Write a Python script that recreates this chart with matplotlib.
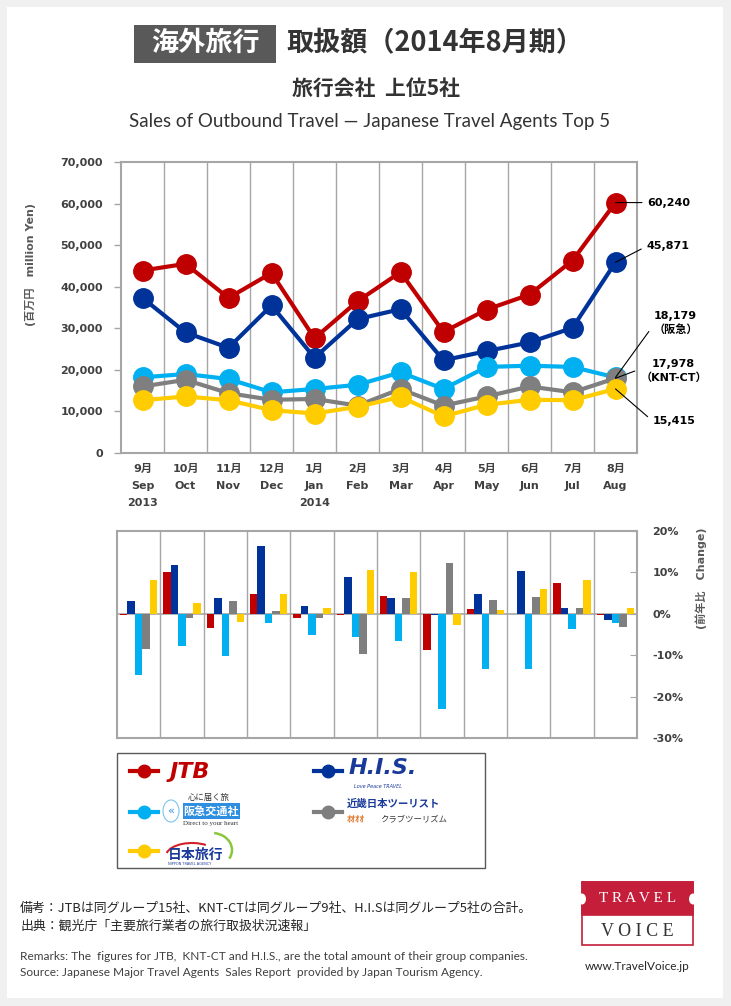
import numpy as np
import matplotlib
matplotlib.use('Agg')
import matplotlib.pyplot as plt
from matplotlib.lines import Line2D
from matplotlib.patches import Rectangle, Circle, Arc
from matplotlib.ticker import FuncFormatter

plt.rcParams['font.family'] = ['DejaVu Sans', 'Noto Sans CJK JP']

# データ（百万円）
months_jp = ['9月', '10月', '11月', '12月', '1月', '2月', '3月', '4月', '5月', '6月', '7月', '8月']
months_en = ['Sep', 'Oct', 'Nov', 'Dec', 'Jan', 'Feb', 'Mar', 'Apr', 'May', 'Jun', 'Jul', 'Aug']
years = ['2013', '', '', '', '2014', '', '', '', '', '', '', '']

jtb = [43900, 45500, 37300, 43300, 27600, 36500, 43500, 29100, 34500, 38100, 46300, 60240]
his = [37300, 29000, 25300, 35500, 22900, 32200, 34600, 22300, 24500, 26600, 30100, 45871]
hankyu = [18200, 19000, 17800, 14600, 15400, 16400, 19400, 15400, 20700, 21000, 20700, 18179]
knt = [16000, 17600, 14400, 12800, 13000, 11400, 15400, 11400, 13600, 16000, 14600, 17978]
nta = [12700, 13600, 12700, 10300, 9500, 11100, 13500, 8800, 11600, 12800, 12700, 15415]

# 前年比（%）
jtb_chg = [-0.3, 10.2, -3.5, 4.9, -1.1, -0.3, 4.4, -8.7, 1.1, 0.0, 7.4, -0.3]
his_chg = [3.0, 11.7, 3.7, 16.4, 1.8, 8.8, 3.7, -0.4, 4.7, 10.3, 1.3, -1.5]
hankyu_chg = [-14.7, -7.7, -10.3, -2.3, -5.2, -5.7, -6.5, -23.0, -13.3, -13.3, -3.6, -2.3]
knt_chg = [-8.4, -0.9, 3.2, 0.6, -1.1, -9.8, 3.7, 12.3, 3.3, 4.0, 1.5, -3.1]
nta_chg = [8.1, 2.7, -1.9, 4.9, 1.3, 10.7, 10.0, -2.8, 0.8, 5.9, 8.1, 1.5]

colors = ['#c00000', '#003399', '#00b0f0', '#7f7f7f', '#ffcc00']
series = [jtb, his, hankyu, knt, nta]
changes = [jtb_chg, his_chg, hankyu_chg, knt_chg, nta_chg]
end_tags = ['', '', '（阪急）', '（KNT-CT）', '']

W, H = 731, 1006
def fx(x):
    return x / W
def fy(y):
    return 1 - y / H

grid_c = '#a6a6a6'
txt_c = '#404040'

fig = plt.figure(figsize=(W / 100, H / 100), dpi=100, facecolor='#f0f0f0')
fig.add_artist(Rectangle((fx(7), fy(998)), 716 / W, 991 / H, transform=fig.transFigure,
                         facecolor='white', edgecolor='none', zorder=0))

# タイトル
fig.add_artist(Rectangle((fx(134), fy(63)), 142 / W, 38 / H, transform=fig.transFigure,
                         facecolor='#595959', edgecolor='none'))
fig.text(fx(205), fy(43), '海外旅行', color='white', fontsize=19.5, fontweight='bold',
         ha='center', va='center', family='Noto Sans CJK JP')
fig.text(fx(286), fy(43), '取扱額（2014年8月期）', color='#333333', fontsize=19.5, fontweight='bold',
         ha='left', va='center', family='Noto Sans CJK JP')
fig.text(fx(376), fy(88), '旅行会社  上位5社', color='#333333', fontsize=15, fontweight='bold',
         ha='center', va='center', family='Noto Sans CJK JP')
fig.text(fx(370), fy(122), 'Sales of Outbound Travel — Japanese Travel Agents Top 5', color='#333333',
         fontsize=13.5, ha='center', va='center', family=['Lato', 'DejaVu Sans'])

# 上段：取扱額
x = np.arange(12) + 0.5
ax = fig.add_axes([fx(121), fy(453), 516 / W, 291 / H])
for s, c in zip(series, colors):
    ax.plot(x, s, color=c, lw=3, marker='o', ms=14, mec=c, solid_capstyle='round')
ax.set_xlim(0, 12)
ax.set_ylim(0, 70000)
ax.set_yticks(np.arange(0, 70001, 10000))
ax.yaxis.set_major_formatter(FuncFormatter(lambda v, p: f'{int(v):,}'))
ax.set_xticks(x)
ax.set_xticklabels([f'{a}\n{b}\n{c}' if c else f'{a}\n{b}' for a, b, c in zip(months_jp, months_en, years)],
                   linespacing=1.85)
ax.set_xticks(np.arange(1, 12), minor=True)
ax.grid(which='minor', axis='x', color=grid_c, lw=1)
ax.tick_params(axis='x', which='both', length=0, pad=8)
ax.tick_params(axis='y', length=5, color=grid_c, width=1, pad=8)
for lab in ax.get_xticklabels() + ax.get_yticklabels():
    lab.set_fontweight('bold')
    lab.set_fontsize(8)
    lab.set_color(txt_c)
for sp in ax.spines.values():
    sp.set_color(grid_c)
    sp.set_linewidth(1.5)

fig.text(fx(31), fy(264), '(百万円　million Yen)', rotation=90, ha='center', va='center',
         fontsize=8, fontweight='bold', color='#595959')

# 最終月のラベル
label_pos = [(32, 0, 'left', (0, 0.5)), (31, 16, 'left', (0, 0.5)), (60, 54, 'center', (0.15, 0.8)),
             (58, 7, 'center', (0.1, 0.7)), (37, -32, 'left', (0, 0.5))]
for s, tag, (dx, dy, ha, rp) in zip(series, end_tags, label_pos):
    t = f'{s[-1]:,}' + (f'\n{tag}' if tag else '')
    ax.annotate(t, xy=(x[-1], s[-1]), xytext=(dx, dy), textcoords='offset pixels',
                ha=ha, va='center', fontsize=8, fontweight='bold', color='black',
                linespacing=1.35, annotation_clip=False,
                arrowprops=dict(arrowstyle='-', color='black', lw=0.8, shrinkA=2, shrinkB=0, relpos=rp))

# 下段：前年比
ax2 = fig.add_axes([fx(117), fy(738), 520 / W, 207 / H])
bw = 0.172
for k, (chg, c) in enumerate(zip(changes, colors)):
    ax2.bar(x + (k - 2) * bw, chg, width=bw, color=c, zorder=3)
ax2.axhline(0, color=grid_c, lw=1.2, zorder=2)
ax2.set_xlim(0, 12)
ax2.set_ylim(-30, 20)
ax2.set_xticks([])
ax2.set_xticks(np.arange(1, 12), minor=True)
ax2.grid(which='minor', axis='x', color=grid_c, lw=1, zorder=1)
ax2.tick_params(axis='x', which='both', length=0)
ax2.yaxis.tick_right()
ax2.set_yticks(np.arange(-30, 21, 10))
ax2.yaxis.set_major_formatter(FuncFormatter(lambda v, p: f'{int(v)}%'))
ax2.tick_params(axis='y', direction='in', length=5, color=grid_c, pad=11)
for lab in ax2.get_yticklabels():
    lab.set_fontweight('bold')
    lab.set_fontsize(8)
    lab.set_color(txt_c)
for sp in ax2.spines.values():
    sp.set_color(grid_c)
    sp.set_linewidth(1.5)
fig.text(fx(701), fy(578), '(前年比　Change)', rotation=90, ha='center', va='center',
         fontsize=8, fontweight='bold', color='#595959')

# 凡例
fig.add_artist(Rectangle((fx(117), fy(868)), 368 / W, 115 / H, transform=fig.transFigure,
                         facecolor='white', edgecolor='#595959', lw=1))
legend_xy = [(144, 771), (328, 771), (144, 812), (328, 812), (144, 851)]
for (lx, ly), c in zip(legend_xy, colors):
    fig.add_artist(Line2D([fx(lx - 14), fx(lx + 14)], [fy(ly), fy(ly)], transform=fig.transFigure,
                          color=c, lw=3))
    fig.add_artist(Line2D([fx(lx)], [fy(ly)], transform=fig.transFigure, marker='o', ms=9,
                          color=c, mec=c))

fig.text(fx(170), fy(772), 'JTB', color='#c00000', fontsize=16, fontweight='bold', style='italic',
         ha='left', va='center')
fig.text(fx(349), fy(768), 'H.I.S.', color='#1a3a9a', fontsize=16, fontweight='bold', style='italic',
         ha='left', va='center')
fig.text(fx(378), fy(787), 'Love Peace TRAVEL', color='#1a3a9a', fontsize=3.5, style='italic',
         ha='center', va='center')

fig.text(fx(209), fy(797), '心に届く旅', color='#333333', fontsize=6, ha='center', va='center',
         family=['Noto Sans CJK JP'])
fig.add_artist(Rectangle((fx(183), fy(819)), 57 / W, 16 / H, transform=fig.transFigure,
                         facecolor='#2e8ee0', edgecolor='none'))
fig.text(fx(211), fy(811), '阪急交通社', color='white', fontsize=8, fontweight='bold',
         ha='center', va='center', family=['Noto Sans CJK JP'])
fig.add_artist(Circle((fx(171), fy(811)), 8 / W, transform=fig.transFigure,
                      facecolor='white', edgecolor='#7cc3ee', lw=0.8))
fig.text(fx(171), fy(811), '«', color='#2e8ee0', fontsize=8, ha='center', va='center')
fig.text(fx(211), fy(824), 'Direct to your heart', color='#333333', fontsize=5, ha='center', va='center',
         family=['Liberation Serif'])

fig.text(fx(347), fy(804), '近畿日本ツーリスト', color='#1a3a9a', fontsize=7.5, fontweight='bold',
         ha='left', va='center', family=['Noto Sans CJK JP'])
fig.text(fx(347), fy(819), 'ｵｵｵｵ', color='#e07020', fontsize=6.5, fontweight='bold',
         ha='left', va='center', family=['Noto Sans CJK JP'])
fig.text(fx(380), fy(819), 'クラブツーリズム', color='#333333', fontsize=6, ha='left', va='center',
         family=['Noto Sans CJK JP'])

fig.add_artist(Arc((fx(192), fy(856)), 52 / W, 26 / H, theta1=30, theta2=175, transform=fig.transFigure,
                   color='#d0202a', lw=1.5))
fig.add_artist(Arc((fx(212), fy(850)), 40 / W, 34 / H, theta1=-20, theta2=80, transform=fig.transFigure,
                   color='#8cc63f', lw=1.8))
fig.text(fx(168), fy(855), '日本旅行', color='#1a3a9a', fontsize=10, fontweight='bold',
         ha='left', va='center', family=['Noto Sans CJK JP'])
fig.text(fx(168), fy(864), 'NIPPON TRAVEL AGENCY', color='#1a3a9a', fontsize=2.5, ha='left', va='center')

# 注記
jp_note = ['備考：JTBは同グループ15社、KNT-CTは同グループ9社、H.I.Sは同グループ5社の合計。',
           '出典：観光庁「主要旅行業者の旅行取扱状況速報」']
en_note = ['Remarks: The  figures for JTB,  KNT-CT and H.I.S., are the total amount of their group companies.',
           'Source: Japanese Major Travel Agents  Sales Report  provided by Japan Tourism Agency.']
fig.text(fx(20), fy(908), jp_note[0], fontsize=9.3, color='#262626', ha='left', va='center',
         family=['Noto Sans CJK JP'])
fig.text(fx(20), fy(926), jp_note[1], fontsize=9.3, color='#262626', ha='left', va='center',
         family=['Noto Sans CJK JP'])
fig.text(fx(20), fy(957), en_note[0], fontsize=8.6, color=txt_c, ha='left', va='center',
         family=['Lato', 'DejaVu Sans'])
fig.text(fx(20), fy(973), en_note[1], fontsize=8.6, color=txt_c, ha='left', va='center',
         family=['Lato', 'DejaVu Sans'])

# TRAVEL VOICE ロゴ
red = '#c41e3a'
fig.add_artist(Rectangle((fx(582), fy(945)), 111 / W, 63 / H, transform=fig.transFigure,
                         facecolor='white', edgecolor=red, lw=1.2))
fig.add_artist(Rectangle((fx(582), fy(915)), 111 / W, 33 / H, transform=fig.transFigure,
                         facecolor=red, edgecolor=red, lw=1.2))
for nx in (582, 693):
    fig.add_artist(Circle((fx(nx), fy(899)), 4 / W, transform=fig.transFigure,
                          facecolor='white', edgecolor='none'))
fig.text(fx(637.5), fy(899), 'T R A V E L', color='white', fontsize=11, ha='center', va='center',
         family=['Liberation Serif'])
fig.text(fx(637.5), fy(931), 'V O I C E', color='#333333', fontsize=13, ha='center', va='center',
         family=['Liberation Serif'])
fig.text(fx(637.5), fy(967), 'www.TravelVoice.jp', color='#262626', fontsize=8.5, ha='center', va='center',
         family=['Lato', 'DejaVu Sans'])

fig.savefig('out.png', dpi=100, facecolor=fig.get_facecolor())
